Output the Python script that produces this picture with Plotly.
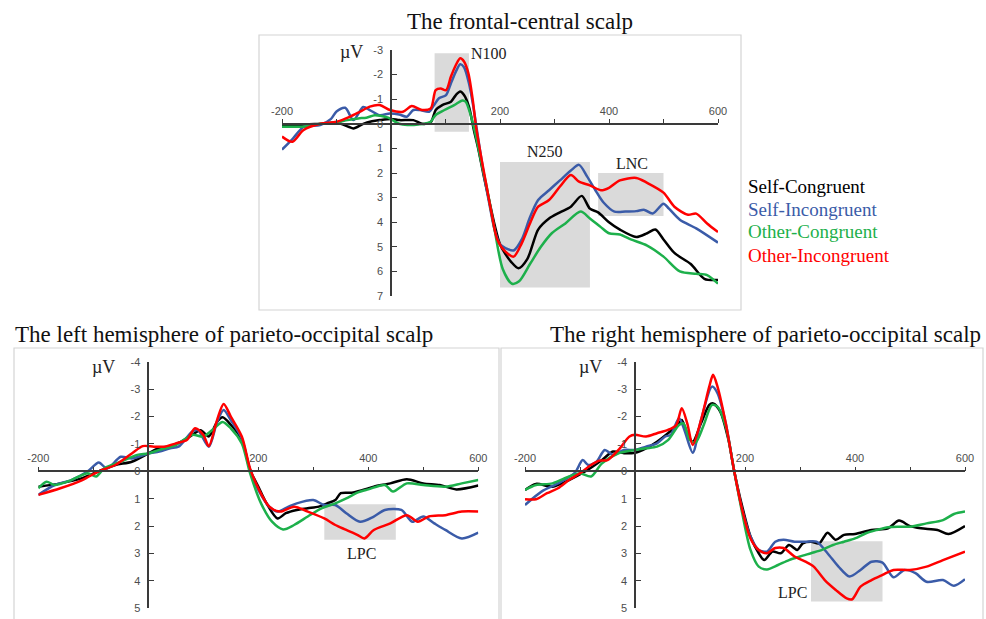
import plotly.graph_objects as go

W, H = 986, 619

# ---------------- data (time in ms, amplitude in microvolts) ----------------
series_names = ["Self-Congruent", "Self-Incongruent", "Other-Congruent", "Other-Incongruent"]
series_colors = ["#000000", "#3A5BA8", "#1DB04B", "#FF0000"]

# frontal-central scalp
fc_sc_t = [-200,-175,-150,-125,-100,-78,-69,-51,-35,-21,0,16,41,57,73,82,94,110,119,127,134,143,152,160,170,180,190,200,210,220,234,250,260,270,290,310,330,350,365,380,400,420,450,470,485,500,520,550,575,600]
fc_sc_v = [0.05,0.05,0.02,0.0,-0.05,0.12,0.19,0.0,-0.1,-0.15,-0.2,-0.15,-0.15,0.0,-0.07,-0.56,-0.76,-0.9,-1.17,-1.31,-1.17,-0.7,0.25,1.0,2.1,3.1,4.1,4.9,5.3,5.6,5.87,5.5,4.9,4.3,3.85,3.6,3.37,2.93,3.45,3.6,4.0,4.3,4.6,4.45,4.3,4.7,5.25,5.7,6.3,6.35]
fc_si_t = [-200,-180,-160,-130,-110,-100,-84,-69,-51,-39,-21,-2,15,29,41,53,70,79,88,101,110,119,127,134,143,151,160,170,180,190,200,210,225,240,255,270,290,310,330,345,360,375,390,410,430,450,465,480,500,510,530,560,600]
fc_si_v = [1.05,0.6,0.12,0.05,-0.2,-0.5,-0.65,-0.15,-0.68,-0.56,-0.35,-0.42,-0.38,-0.29,-0.56,-0.56,-0.49,-0.76,-1.04,-1.17,-1.65,-2.12,-2.42,-2.3,-1.65,-0.7,0.6,2.0,3.2,4.3,4.9,5.05,5.15,4.7,3.8,3.1,2.7,2.3,1.9,1.67,2.15,2.7,3.2,3.57,3.57,3.55,3.5,3.65,3.25,3.45,3.9,4.25,4.83]
fc_oc_t = [-200,-180,-160,-130,-100,-80,-60,-45,-30,-20,-5,15,30,50,72,82,98,116,131,137,147,156,165,175,190,205,222,235,255,275,295,320,348,365,385,400,420,440,470,500,530,560,580,600]
fc_oc_v = [0.12,0.12,0.12,0.0,-0.05,-0.15,-0.22,-0.25,-0.35,-0.33,-0.25,0.0,0.05,0.03,-0.07,-0.36,-0.56,-0.76,-0.95,-0.9,-0.29,0.53,1.5,2.5,4.3,5.9,6.5,6.4,5.7,5.0,4.45,4.05,3.57,3.85,4.2,4.45,4.5,4.7,4.95,5.4,6.0,6.1,6.15,6.5]
fc_oi_t = [-200,-181,-161,-130,-100,-76,-57,-39,-21,-2,22,38,57,73,82,91,101,110,119,127,134,142,150,156,165,175,185,195,210,225,240,255,270,290,310,330,345,365,385,400,420,450,470,500,520,545,560,580,600]
fc_oi_v = [0.52,0.73,0.26,0.0,-0.08,-0.28,-0.49,-0.7,-0.76,-0.56,-0.49,-0.72,-0.56,-0.63,-1.37,-1.44,-1.37,-1.92,-2.39,-2.66,-2.53,-2.05,-0.97,0.12,1.3,2.5,3.7,4.7,5.2,5.4,4.85,4.05,3.37,3.1,2.55,2.08,2.35,2.5,2.7,2.6,2.3,2.2,2.4,2.8,3.37,3.7,3.65,4.05,4.4]

# left hemisphere of parieto-occipital scalp
lh_sc_t = [-200,-160,-120,-90,-60,-30,0,20,40,60,80,95,110,125,135,150,170,185,200,215,235,250,270,290,310,325,340,350,370,390,410,440,470,500,530,560,600]
lh_sc_v = [0.56,0.44,0.25,0,-0.23,-0.35,-0.65,-0.85,-0.92,-1.08,-1.33,-1.5,-1.27,-1.8,-1.97,-1.7,-1.15,-0.05,0.56,1.17,1.72,1.53,1.41,1.35,1.29,1.17,1.05,0.8,0.78,0.68,0.56,0.44,0.29,0.44,0.5,0.66,0.52]
lh_si_t = [-200,-170,-140,-110,-90,-75,-50,-30,0,20,40,55,80,90,110,125,137,150,170,185,200,220,235,255,270,300,320,340,360,385,410,430,460,480,500,520,540,570,600]
lh_si_v = [0.86,0.5,0.32,0.0,-0.32,-0.1,-0.53,-0.47,-0.65,-0.72,-0.84,-0.9,-1.45,-1.5,-0.9,-1.8,-2.24,-1.87,-1.2,-0.05,0.68,1.29,1.47,1.29,1.17,1.05,1.23,1.23,1.53,1.84,1.65,1.41,1.41,1.84,1.65,1.9,2.14,2.45,2.24]
lh_oc_t = [-200,-185,-170,-140,-110,-95,-80,-50,-20,0,20,50,80,100,120,135,150,170,185,205,225,245,265,290,315,340,360,380,400,430,445,470,500,540,570,600]
lh_oc_v = [0.62,0.38,0.5,0.32,0.07,0.19,-0.11,-0.35,-0.6,-0.65,-0.78,-0.96,-1.33,-1.27,-1.57,-1.8,-1.57,-1.02,0.07,1.17,1.84,2.12,1.96,1.65,1.35,1.17,0.99,0.78,0.66,0.5,0.74,0.44,0.5,0.56,0.44,0.32]
lh_oi_t = [-200,-160,-120,-90,-60,-30,-10,10,30,50,70,85,100,110,125,137,150,170,185,200,220,240,265,290,320,340,360,380,393,410,440,470,490,510,540,570,600]
lh_oi_v = [0.86,0.62,0.32,0,-0.23,-0.65,-0.92,-0.9,-0.9,-1.02,-1.14,-1.57,-1.33,-0.92,-1.87,-2.46,-2.0,-1.27,-0.11,0.62,1.29,1.47,1.29,1.47,1.72,1.96,2.14,2.32,2.45,2.14,1.9,1.6,1.84,1.65,1.6,1.47,1.47]

# right hemisphere of parieto-occipital scalp
rh_sc_t = [-200,-180,-150,-120,-90,-60,-40,-20,0,20,40,60,80,85,95,105,120,135,142,155,170,180,195,210,225,235,250,265,280,295,305,320,335,350,365,380,400,430,460,480,500,520,550,570,600]
rh_sc_v = [0.68,0.46,0.56,0.32,0,-0.41,-0.72,-0.66,-0.68,-0.84,-1.08,-1.39,-1.75,-1.87,-1.39,-1.08,-1.75,-2.42,-2.48,-2.18,-1.14,-0.05,1.29,2.38,2.99,3.24,2.93,2.99,2.69,2.87,2.63,2.57,2.63,2.24,2.5,2.32,2.29,2.14,2.08,1.8,2.0,2.08,2.14,2.29,2.0]
rh_si_t = [-200,-170,-140,-110,-95,-85,-70,-55,-40,-20,0,20,40,55,65,80,90,105,120,140,150,165,180,195,210,225,240,255,270,290,310,330,350,370,390,410,430,450,470,490,510,530,560,580,600]
rh_si_v = [1.23,0.74,0.44,0.07,-0.41,-0.23,-0.35,-0.78,-0.6,-0.78,-0.78,-0.9,-1.02,-1.27,-1.33,-1.94,-1.5,-0.68,-1.87,-3.09,-2.85,-1.75,-0.05,1.41,2.38,2.87,2.93,2.57,2.5,2.57,2.57,2.57,2.99,3.48,3.84,3.6,3.3,3.33,3.87,3.6,3.72,4.03,3.97,4.18,3.94]
rh_oc_t = [-200,-180,-150,-120,-100,-80,-60,-30,0,20,40,60,80,88,100,110,125,140,150,165,180,195,210,225,240,260,280,300,320,340,360,380,400,420,440,460,480,500,530,560,580,600]
rh_oc_v = [0.68,0.5,0.44,0.19,0.07,0.19,-0.29,-0.66,-0.78,-0.84,-0.9,-1.14,-1.69,-1.75,-1.14,-1.05,-1.69,-2.42,-2.36,-1.63,-0.05,1.53,2.87,3.48,3.58,3.42,3.24,3.11,2.99,2.87,2.69,2.57,2.45,2.26,2.14,2.04,2.02,2.02,1.9,1.78,1.56,1.47]
rh_oi_t = [-200,-180,-160,-140,-120,-100,-80,-65,-50,-30,-10,0,20,40,60,75,85,95,105,120,135,142,150,165,180,195,210,225,240,255,270,290,310,325,345,365,385,395,410,430,450,470,500,530,560,600]
rh_oi_v = [1.02,1.02,0.8,0.62,0.32,0.07,-0.23,-0.39,-0.41,-0.78,-1.27,-1.33,-1.27,-1.39,-1.51,-1.69,-2.3,-1.75,-0.96,-1.87,-3.09,-3.52,-3.09,-1.75,-0.05,1.41,2.45,2.87,2.99,2.8,2.8,3.11,3.3,3.48,3.97,4.33,4.64,4.67,4.21,3.97,3.78,3.6,3.6,3.48,3.24,2.93]

# component windows: (label, t_start, t_end, uV_top, uV_bottom)
fc_windows = [("N100", 80, 143, -2.87, 0.32), ("N250", 200, 365, 1.55, 6.65), ("LNC", 380, 500, 2.0, 3.75)]
lh_windows = [("LPC", 320, 450, 1.2, 2.5)]
rh_windows = [("LPC", 320, 450, 2.55, 4.75)]
# component label positions (t, uV)
fc_labels = [("N100", 180, -2.87), ("N250", 283, 1.13), ("LNC", 442, 1.6)]
lh_labels = [("LPC", 387, 2.99)]
rh_labels = [("LPC", 287, 4.43)]

titles = ["The frontal-central scalp",
          "The left hemisphere of parieto-occipital scalp",
          "The right hemisphere of parieto-occipital scalp"]

x_ticks = [-200, -100, 0, 100, 200, 300, 400, 500, 600]
x_ticktext = ["-200", "", "", "", "200", "", "400", "", "600"]

# ---------------- layout helpers (pixel -> paper) ----------------
def fx(p):
    return p / W

def fy(p):
    return 1 - p / H

SERIF = "Liberation Serif"
AXC = "#3a3a3a"
TICKC = "#4d4d4d"

panels = [
    dict(ax="", xpix=(282, 718), ypix=(50, 296), yr=(-3, 7),
         series=[(fc_sc_t, fc_sc_v), (fc_si_t, fc_si_v), (fc_oc_t, fc_oc_v), (fc_oi_t, fc_oi_v)],
         windows=fc_windows, labels=fc_labels, uv=(351, 52)),
    dict(ax="2", xpix=(38.3, 478.3), ypix=(361.7, 608.3), yr=(-4, 5),
         series=[(lh_sc_t, lh_sc_v), (lh_si_t, lh_si_v), (lh_oc_t, lh_oc_v), (lh_oi_t, lh_oi_v)],
         windows=lh_windows, labels=lh_labels, uv=(103, 367)),
    dict(ax="3", xpix=(525, 965), ypix=(361.7, 608.3), yr=(-4, 5),
         series=[(rh_sc_t, rh_sc_v), (rh_si_t, rh_si_v), (rh_oc_t, rh_oc_v), (rh_oi_t, rh_oi_v)],
         windows=rh_windows, labels=rh_labels, uv=(590, 367)),
]

fig = go.Figure()
shapes = []
annotations = []

for p in panels:
    xa = "x" + p["ax"]
    ya = "y" + p["ax"]
    xdom = [fx(p["xpix"][0]), fx(p["xpix"][1])]
    ydom = [fy(p["ypix"][1]), fy(p["ypix"][0])]
    ylo, yhi = p["yr"]
    # x axis crosses at 0 uV, y axis crosses at 0 ms
    xpos = ydom[0] + (yhi - 0) / (yhi - ylo) * (ydom[1] - ydom[0])
    ypos = xdom[0] + (0 - (-200)) / 800 * (xdom[1] - xdom[0])
    yt = list(range(ylo, yhi + 1))
    fig.update_layout(**{
        "xaxis" + p["ax"]: dict(domain=xdom, range=[-200, 600], anchor="free", position=xpos,
                                side="top", showline=True, linecolor=AXC, linewidth=1.5,
                                ticks="outside", ticklen=4, tickwidth=1.2, tickcolor=AXC,
                                tickvals=x_ticks, ticktext=x_ticktext, automargin=False,
                                tickfont=dict(family="Liberation Sans", size=11, color=TICKC),
                                showgrid=False, zeroline=False, fixedrange=True),
        "yaxis" + p["ax"]: dict(domain=ydom, range=[yhi, ylo], anchor="free", position=ypos,
                                side="left", showline=True, linecolor=AXC, linewidth=1.5,
                                ticks="inside", ticklen=5, tickwidth=1.2, tickcolor=AXC,
                                tickvals=yt, ticktext=[str(v) for v in yt], automargin=False,
                                ticklabelstandoff=5,
                                tickfont=dict(family="Liberation Sans", size=11, color=TICKC),
                                showgrid=False, zeroline=False, fixedrange=True),
    })
    for (lab, t0, t1, v0, v1) in p["windows"]:
        shapes.append(dict(type="rect", xref=xa, yref=ya, x0=t0, x1=t1, y0=v0, y1=v1,
                           fillcolor="#dadada", line=dict(width=0), layer="below"))
    for (lab, t, v) in p["labels"]:
        annotations.append(dict(xref=xa, yref=ya, x=t, y=v, text=lab, showarrow=False,
                                xanchor="center", yanchor="middle",
                                font=dict(family=SERIF, size=16, color="#222222")))
    annotations.append(dict(xref="paper", yref="paper", x=fx(p["uv"][0]), y=fy(p["uv"][1]),
                            text="µV", showarrow=False, xanchor="center", yanchor="middle",
                            font=dict(family=SERIF, size=18, color="#222222")))
    for (name, color, (t, v)) in zip(series_names, series_colors, p["series"]):
        fig.add_trace(go.Scatter(x=t, y=v, mode="lines", name=name, xaxis=xa, yaxis=ya,
                                 line=dict(color=color, width=2.5, shape="spline", smoothing=0.8),
                                 showlegend=False, hoverinfo="skip"))

# panel frames
for (x0, y0, x1, y1) in [(259, 35, 741, 310), (14, 348, 499, 625), (501, 348, 983, 625)]:
    shapes.append(dict(type="rect", xref="paper", yref="paper", x0=fx(x0), x1=fx(x1),
                       y0=fy(y1), y1=fy(y0), line=dict(color="#d4d4d4", width=1.2),
                       fillcolor="rgba(0,0,0,0)", layer="below"))

# titles
for (text, cx, cy) in zip(titles, [520, 224, 765], [21, 334, 334]):
    annotations.append(dict(xref="paper", yref="paper", x=fx(cx), y=fy(cy), text=text,
                            xanchor="center", yanchor="middle",
                            showarrow=False, font=dict(family=SERIF, size=23, color="#111111")))

# legend as coloured text
for (name, color, cy) in zip(series_names, series_colors, [186, 209, 232, 255]):
    annotations.append(dict(xref="paper", yref="paper", x=fx(746), y=fy(cy), text=name,
                            xanchor="left", yanchor="middle", showarrow=False,
                            font=dict(family=SERIF, size=19, color=color)))

fig.update_layout(width=W, height=H, margin=dict(l=0, r=0, t=0, b=0, autoexpand=False),
                  paper_bgcolor="white", plot_bgcolor="white",
                  shapes=shapes, annotations=annotations, showlegend=False)

fig.write_html("out.html", config={"displayModeBar": False},
               post_script="document.body.style.margin='0px';document.body.style.overflow='hidden';")
